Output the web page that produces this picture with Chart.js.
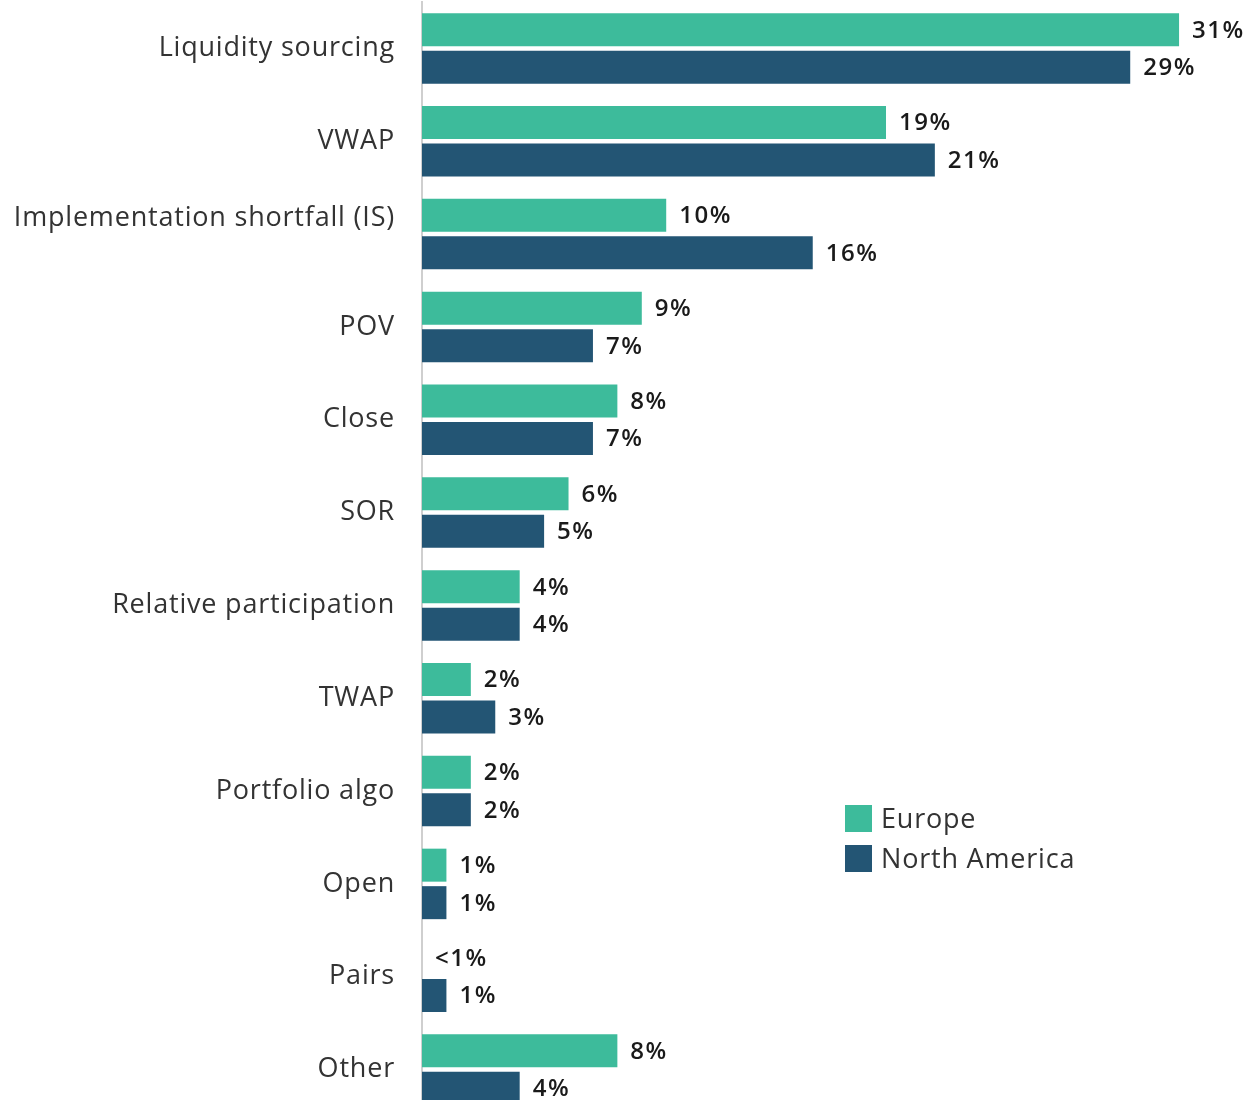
<!DOCTYPE html>
<html>
<head>
<meta charset="utf-8">
<script src="https://cdn.jsdelivr.net/npm/chart.js@4"></script>
<style>
  html, body { margin: 0; padding: 0; background: #fff; overflow: hidden; }
  #wrap { position: relative; width: 1245px; height: 1118px; }
</style>
</head>
<body>
<div id="wrap"><canvas id="chart"></canvas></div>
<script>
const categories = [
  "Liquidity sourcing", "VWAP", "Implementation shortfall (IS)", "POV", "Close",
  "SOR", "Relative participation", "TWAP", "Portfolio algo", "Open", "Pairs", "Other"
];
const europe = [31, 19, 10, 9, 8, 6, 4, 2, 2, 1, 0, 8];
const northAmerica = [29, 21, 16, 7, 7, 5, 4, 3, 2, 1, 1, 4];
const europeLabels = ["31%", "19%", "10%", "9%", "8%", "6%", "4%", "2%", "2%", "1%", "<1%", "8%"];
const northAmericaLabels = ["29%", "21%", "16%", "7%", "7%", "5%", "4%", "3%", "2%", "1%", "1%", "4%"];

const FONT = "'Open Sans', sans-serif";

// the long label sits a little higher in the original, so give it an empty second line
const tickLabels = categories.map(c => c.length > 25 ? [c, ""] : c);

const spacing = {
  id: "spacing",
  beforeDraw(chart) { chart.ctx.letterSpacing = "0.8px"; },
  afterDraw(chart) { chart.ctx.letterSpacing = "0px"; }
};

const valueLabels = {
  id: "valueLabels",
  afterDatasetsDraw(chart) {
    const ctx = chart.ctx;
    const texts = [europeLabels, northAmericaLabels];
    ctx.save();
    ctx.letterSpacing = "1.5px";
    ctx.font = "600 24px " + FONT;
    ctx.fillStyle = "#1a1a1a";
    ctx.textBaseline = "middle";
    ctx.textAlign = "left";
    chart.data.datasets.forEach((ds, i) => {
      chart.getDatasetMeta(i).data.forEach((bar, j) => {
        ctx.fillText(texts[i][j], bar.x + 13, bar.y + 1);
      });
    });
    ctx.restore();
  }
};

const boxLegend = {
  id: "boxLegend",
  afterDraw(chart) {
    const ctx = chart.ctx;
    ctx.save();
    ctx.letterSpacing = "0.8px";
    ctx.font = "27px " + FONT;
    ctx.textBaseline = "middle";
    chart.data.datasets.forEach((ds, i) => {
      const y = 805 + i * 40;
      ctx.fillStyle = ds.backgroundColor;
      ctx.fillRect(845, y, 27, 27);
      ctx.fillStyle = "#333";
      ctx.fillText(ds.label, 881, y + 15);
    });
    ctx.restore();
  }
};

new Chart(document.getElementById("chart"), {
  type: "bar",
  data: {
    labels: tickLabels,
    datasets: [
      { label: "Europe", data: europe, backgroundColor: "#3dbb9b" },
      { label: "North America", data: northAmerica, backgroundColor: "#235574" }
    ]
  },
  options: {
    indexAxis: "y",
    responsive: true,
    maintainAspectRatio: false,
    animation: false,
    categoryPercentage: 0.808,
    barPercentage: 0.88,
    layout: { padding: { top: 2, bottom: 2, left: 0, right: 0 } },
    plugins: { legend: { display: false }, tooltip: { enabled: false } },
    scales: {
      x: { display: false, min: 0, max: 33.7 },
      y: {
        afterFit(scale) {
          scale.width = 422;
          scale.paddingTop = 0;
          scale.paddingBottom = 0;
        },
        grid: { display: false, drawTicks: false },
        border: { display: true, color: "#cfcfcf", width: 2 },
        ticks: { color: "#333", padding: 27, font: { family: FONT, size: 27, lineHeight: 1.2 } }
      }
    }
  },
  plugins: [spacing, valueLabels, boxLegend]
});
</script>
</body>
</html>
